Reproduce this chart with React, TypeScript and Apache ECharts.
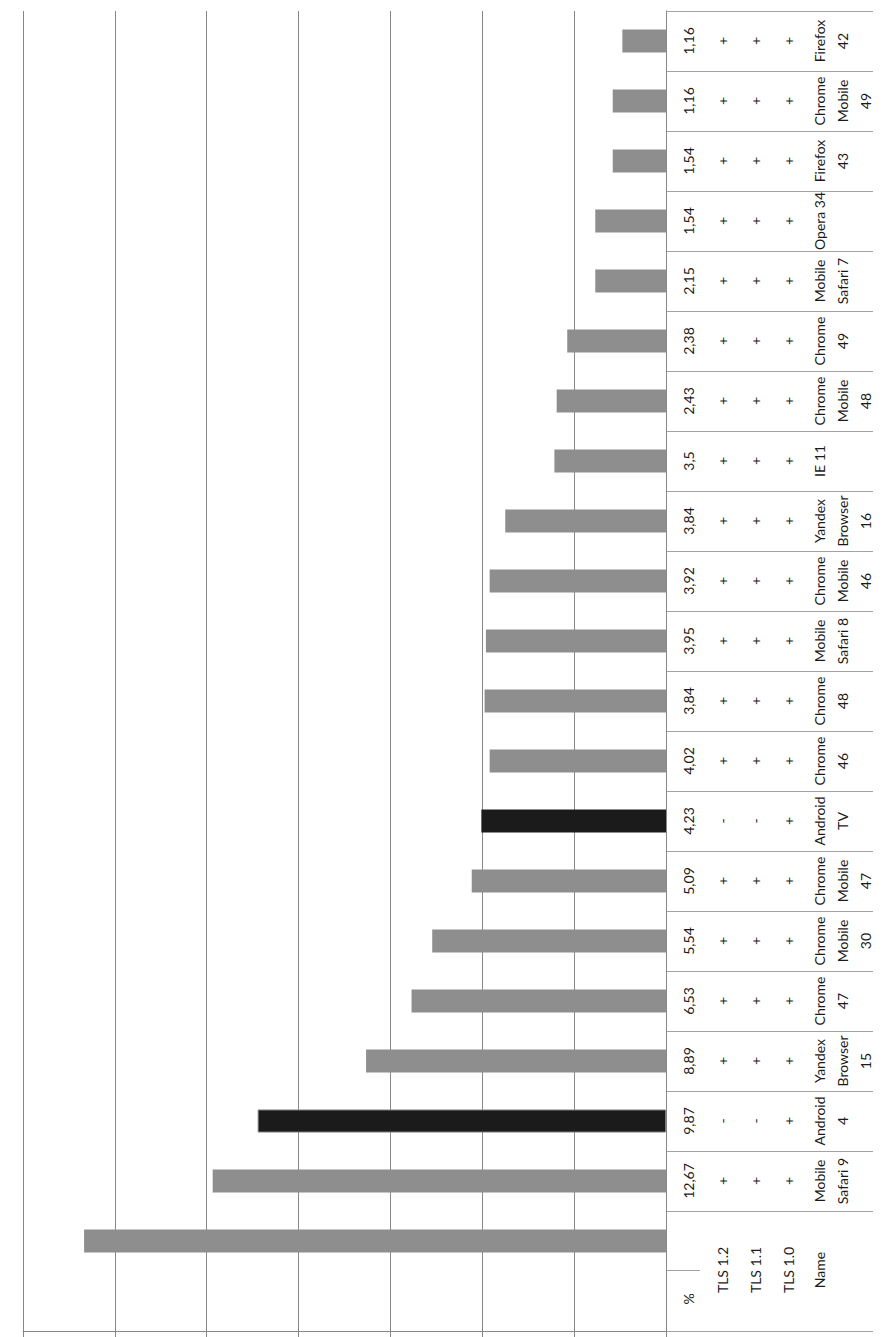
import React, { useEffect, useRef } from "react";
import * as echarts from "echarts";

// Table columns (top to bottom in the rotated picture)
const names = [
  "Firefox\n42", "Chrome\nMobile\n49", "Firefox\n43", "Opera 34", "Mobile\nSafari 7",
  "Chrome\n49", "Chrome\nMobile\n48", "IE 11", "Yandex\nBrowser\n16", "Chrome\nMobile\n46",
  "Mobile\nSafari 8", "Chrome\n48", "Chrome\n46", "Android\nTV", "Chrome\nMobile\n47",
  "Chrome\nMobile\n30", "Chrome\n47", "Yandex\nBrowser\n15", "Android\n4", "Mobile\nSafari 9",
];
const percents = [
  1.16, 1.16, 1.54, 1.54, 2.15, 2.38, 2.43, 3.5, 3.84, 3.92,
  3.95, 3.84, 4.02, 4.23, 5.09, 5.54, 6.53, 8.89, 9.87, 12.67,
];
const tls12 = ["+", "+", "+", "+", "+", "+", "+", "+", "+", "+", "+", "+", "+", "-", "+", "+", "+", "+", "-", "+"];
const tls11 = ["+", "+", "+", "+", "+", "+", "+", "+", "+", "+", "+", "+", "+", "-", "+", "+", "+", "+", "-", "+"];
const tls10 = ["+", "+", "+", "+", "+", "+", "+", "+", "+", "+", "+", "+", "+", "+", "+", "+", "+", "+", "+", "+"];
const headerLabels = ["%", "TLS 1.2", "TLS 1.1", "TLS 1.0", "Name"];

// Category slots of the plot: 20 table columns + header slot with a bar + empty slot
const slotIds = [...names.map((n, i) => "c" + i), "hdr", "blank"];
// Bar lengths as drawn (shifted one slot against the table)
const barValues = [
  0.95, 1.16, 1.16, 1.54, 1.54, 2.15, 2.38, 2.43, 3.5, 3.84, 3.92,
  3.95, 3.84, 4.02, 4.23, 5.09, 5.54, 6.53, 8.89, 9.87, 12.67, null,
];
const axisTicks = { min: 0, max: 14, interval: 2 };

const FONT = "Lato";
const GRID_LINE = "#878787";
const TABLE_LINE = "#a3a3a3";
const GREY = "#8e8e8e";
const DARK = "#1b1b1b";

export default function App() {
  const ref = useRef<HTMLDivElement>(null);
  useEffect(() => {
    if (!ref.current) return;
    const chart = echarts.init(ref.current, undefined, { renderer: "svg" });

    const pad = (arr: string[]) => [...arr, "", ""];
    const pctLabels = pad(percents.map((v) => String(v).replace(".", ",")));

    const labelAxis = (data: string[], margin: number, vAlign: string) => ({
      type: "category",
      gridIndex: 0,
      inverse: true,
      position: "right",
      data,
      axisLine: { show: false },
      axisTick: { show: false },
      splitLine: { show: false },
      axisLabel: {
        show: true,
        interval: 0,
        rotate: 90,
        margin,
        align: "center",
        verticalAlign: vAlign,
        fontFamily: FONT,
        fontSize: 14,
        lineHeight: 23,
        color: "#1a1a1a",
      },
    });

    const headerX = [688, 722, 755, 788, 819];
    const headerY = [1299, 1270, 1270, 1270, 1270];

    chart.setOption({
      animation: false,
      backgroundColor: "#ffffff",
      grid: [
        { left: 23, right: 218, top: 11, bottom: 6, outerBoundsMode: "none" },
        { left: 666, right: 11, top: 11, bottom: 6, outerBoundsMode: "none" },
      ],
      xAxis: [
        {
          type: "value",
          gridIndex: 0,
          inverse: true,
          min: axisTicks.min,
          max: axisTicks.max,
          interval: axisTicks.interval,
          axisLabel: { show: false },
          axisLine: { show: true, lineStyle: { color: GRID_LINE, width: 1 } },
          axisTick: { show: true, length: 6, lineStyle: { color: GRID_LINE, width: 1 } },
          splitLine: { show: true, lineStyle: { color: GRID_LINE, width: 1 } },
        },
        {
          type: "value",
          gridIndex: 1,
          min: 0,
          max: 1,
          show: false,
        },
      ],
      yAxis: [
        {
          type: "category",
          gridIndex: 0,
          inverse: true,
          position: "right",
          data: slotIds,
          axisLine: { show: true, lineStyle: { color: GRID_LINE, width: 1 } },
          axisTick: { show: false },
          axisLabel: { show: false },
          splitLine: { show: false },
        },
        labelAxis(pctLabels, 22, "middle"),
        labelAxis(pad(tls12), 56, "middle"),
        labelAxis(pad(tls11), 89, "middle"),
        labelAxis(pad(tls10), 122, "middle"),
        labelAxis(pad(names), 142, "top"),
        {
          type: "category",
          gridIndex: 1,
          inverse: true,
          data: slotIds,
          axisLine: { show: false },
          axisTick: { show: false },
          axisLabel: { show: false },
          splitLine: {
            show: true,
            interval: (_i: number, v: string) => v !== "blank",
            lineStyle: { color: TABLE_LINE, width: 1 },
          },
        },
      ],
      series: [
        {
          type: "bar",
          xAxisIndex: 0,
          yAxisIndex: 0,
          barWidth: 23,
          data: barValues.map((v, i) => {
            const dark = tls11[i] === "-";
            return {
              value: v,
              itemStyle: dark
                ? { color: DARK, borderColor: i === 18 ? "#7a7a7a" : DARK, borderWidth: i === 18 ? 1 : 0 }
                : { color: GREY },
            };
          }),
        },
      ],
      graphic: [
        {
          type: "line",
          shape: { x1: 666, y1: 1270.5, x2: 700, y2: 1270.5 },
          style: { stroke: TABLE_LINE, lineWidth: 1 },
        },
        ...headerLabels.map((t, i) => ({
          type: "text",
          x: headerX[i],
          y: headerY[i],
          rotation: Math.PI / 2,
          style: {
            text: t,
            fill: "#1a1a1a",
            font: `14px ${FONT}`,
            fontFamily: FONT,
            fontSize: 14,
            align: "center",
            verticalAlign: "middle",
            textAlign: "center",
            textVerticalAlign: "middle",
          },
        })),
      ],
    });
    return () => chart.dispose();
  }, []);
  return (
    <div
      ref={ref}
      style={{ position: "absolute", left: 0, top: 0, width: 884, height: 1337, background: "#fff" }}
    />
  );
}
